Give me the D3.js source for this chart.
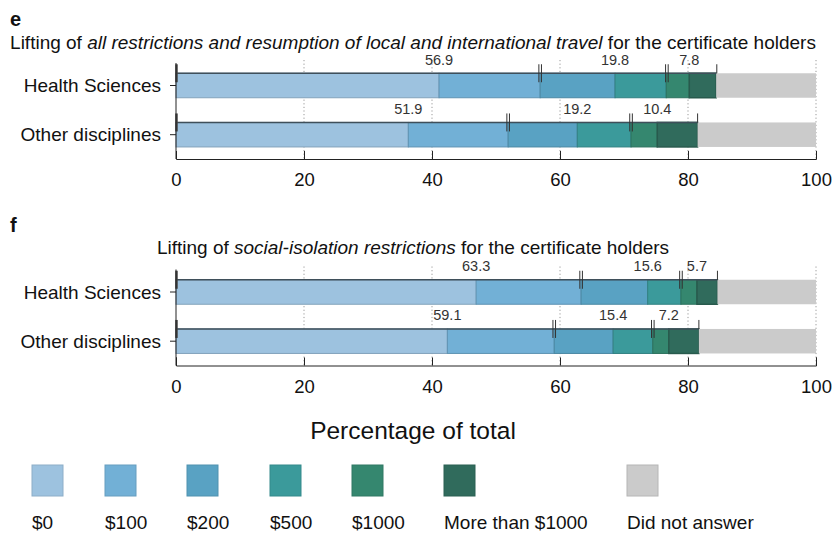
<!DOCTYPE html>
<html><head><meta charset="utf-8">
<script src="https://cdn.jsdelivr.net/npm/d3@7"></script>
<style>
body{margin:0;background:#fff;}
svg{font-family:"Liberation Sans",Arial,sans-serif;}
</style></head>
<body><svg id="c" width="832" height="535"></svg>
<script>
// ---- data ----
const categories = ["Health Sciences", "Other disciplines"];
const responses = ["$0", "$100", "$200", "$500", "$1000", "More than $1000", "Did not answer"];
const colors = ["#9dc2df", "#72b0d6", "#59a2c3", "#3b9a9b", "#35876f", "#306b5c", "#cbcbcb"];
// panel e: all restrictions & travel
const travelHealth = [41.1, 15.8, 11.7, 8.0, 3.6, 4.2, 15.6];
const travelOther  = [36.3, 15.6, 10.8, 8.4, 4.1, 6.3, 18.5];
const travelGroups = [[56.9, 19.8, 7.8], [51.9, 19.2, 10.4]];
// panel f: social isolation
const socialHealth = [46.9, 16.4, 10.4, 5.2, 2.5, 3.2, 15.4];
const socialOther  = [42.4, 16.7, 9.2, 6.2, 2.5, 4.7, 18.3];
const socialGroups = [[63.3, 15.6, 5.7], [59.1, 15.4, 7.2]];
const xTicks = [0, 20, 40, 60, 80, 100];

const svg = d3.select("#c");
const x = d3.scaleLinear().domain([0, 100]).range([176, 816]);

function panel(letter, titleParts, data, groups, top, letterY, titleY) {
  const g = svg.append("g").attr("transform", `translate(0,${top})`);
  const y = d3.scalePoint().domain(categories).range([85.5, 134.7]);
  const bh = 24.5;
  const axisY = 159;

  svg.append("text").attr("x", 10).attr("y", letterY).attr("font-weight", "bold")
    .attr("font-size", 20).attr("fill", "#111").text(letter);
  const t = svg.append("text").attr("x", 413).attr("y", titleY).attr("text-anchor", "middle")
    .attr("font-size", 19).attr("fill", "#111");
  titleParts.forEach(p => t.append("tspan").attr("font-style", p[1] ? "italic" : "normal").text(p[0]));

  // dotted gridlines
  g.selectAll("line.grid").data(xTicks.slice(1)).join("line")
    .attr("x1", d => x(d)).attr("x2", d => x(d)).attr("y1", 60).attr("y2", axisY)
    .attr("stroke", "#999").attr("stroke-width", 1).attr("stroke-dasharray", "1.2,2.4");

  categories.forEach((cat, ci) => {
    const vals = data[ci];
    let cum = 0;
    const segs = vals.map((v, i) => { const s = {x0: cum, x1: cum + v, i}; cum += v; return s; });
    const cy = y(cat);
    g.selectAll(null).data(segs).join("rect")
      .attr("x", d => x(d.x0)).attr("width", d => x(d.x1) - x(d.x0))
      .attr("y", cy - bh / 2).attr("height", bh)
      .attr("fill", d => colors[d.i])
      .attr("stroke", d => d.i === 6 ? "none" : d3.color(colors[d.i]).darker(0.5))
      .attr("stroke-width", d => d.i === 5 ? 1.5 : 1);
    const answered = d3.sum(vals.slice(0, 6));
    g.append("line").attr("x1", x(0)).attr("x2", x(answered))
      .attr("y1", cy - bh / 2).attr("y2", cy - bh / 2).attr("stroke", "#3f4f5a").attr("stroke-width", 1.5);

    // group markers and labels
    const gv = groups[ci];
    const bounds = [0, gv[0], gv[0] + gv[1], gv[0] + gv[1] + gv[2]];
    const inner = [vals[0], vals[0] + vals[1] + vals[2], vals[0] + vals[1] + vals[2] + vals[3] + vals[4]];
    g.append("line").attr("x1", x(0) + 0.5).attr("x2", x(0) + 0.5)
      .attr("y1", cy - bh / 2 - 9).attr("y2", cy - bh / 2 + 9)
      .attr("stroke", "#444").attr("stroke-width", 2.5);
    [bounds[1], bounds[2]].forEach(b => {
      [-1.3, 1.3].forEach(o => g.append("line").attr("x1", x(b) + o).attr("x2", x(b) + o)
        .attr("y1", cy - bh / 2 - 9).attr("y2", cy - bh / 2 + 9)
        .attr("stroke", "#333").attr("stroke-width", 1));
    });
    g.append("line").attr("x1", x(bounds[3])).attr("x2", x(bounds[3]))
      .attr("y1", cy - bh / 2 - 9).attr("y2", cy - bh / 2)
      .attr("stroke", "#333").attr("stroke-width", 1);
    g.selectAll(null).data(gv).join("text")
      .attr("x", (d, i) => x(inner[i])).attr("y", cy - bh / 2 - 8.5)
      .attr("text-anchor", "middle").attr("font-size", 14.5).attr("fill", "#333")
      .text(d => d.toFixed(1));
  });

  // y axis
  g.append("line").attr("x1", x(0)).attr("x2", x(0)).attr("y1", 63).attr("y2", axisY)
    .attr("stroke", "#222").attr("stroke-width", 1);
  g.selectAll(null).data(categories).join("line")
    .attr("x1", x(0) - 6).attr("x2", x(0)).attr("y1", d => y(d)).attr("y2", d => y(d))
    .attr("stroke", "#222");
  g.selectAll(null).data(categories).join("text")
    .attr("x", 161).attr("y", d => y(d)).attr("dy", "0.35em").attr("text-anchor", "end")
    .attr("font-size", 19).attr("fill", "#111").text(d => d);

  // x axis
  const xa = g.append("g").attr("transform", `translate(0,${axisY})`)
    .call(d3.axisBottom(x).tickValues(xTicks).tickSize(-8).tickPadding(14));
  xa.select(".domain").attr("stroke", "#222");
  xa.selectAll(".tick line").attr("stroke", "#222");
  xa.selectAll(".tick text").attr("font-size", 18.5).attr("fill", "#111")
    .attr("font-family", "Liberation Sans, Arial, sans-serif");
}

panel("e", [["Lifting of ", false], ["all restrictions and resumption of local and international travel", true], [" for the certificate holders", false]],
  [travelHealth, travelOther], travelGroups, 0, 26, 49);
panel("f", [["Lifting of ", false], ["social-isolation restrictions", true], [" for the certificate holders", false]],
  [socialHealth, socialOther], socialGroups, 206.5, 232, 254);

svg.append("text").attr("x", 413).attr("y", 439).attr("text-anchor", "middle")
  .attr("font-size", 24.5).attr("fill", "#111").text("Percentage of total");

const legendX = [32, 105, 187, 270, 352, 444, 627];
const lg = svg.selectAll("g.leg").data(responses).join("g").attr("class", "leg")
  .attr("transform", (d, i) => `translate(${legendX[i]},465)`);
lg.append("rect").attr("width", 31).attr("height", 31)
  .attr("fill", (d, i) => colors[i]).attr("stroke", (d, i) => d3.color(colors[i]).darker(0.3)).attr("stroke-width", 1);
lg.append("text").attr("y", 64).attr("font-size", 19).attr("fill", "#111").text(d => d);
</script></body></html>
